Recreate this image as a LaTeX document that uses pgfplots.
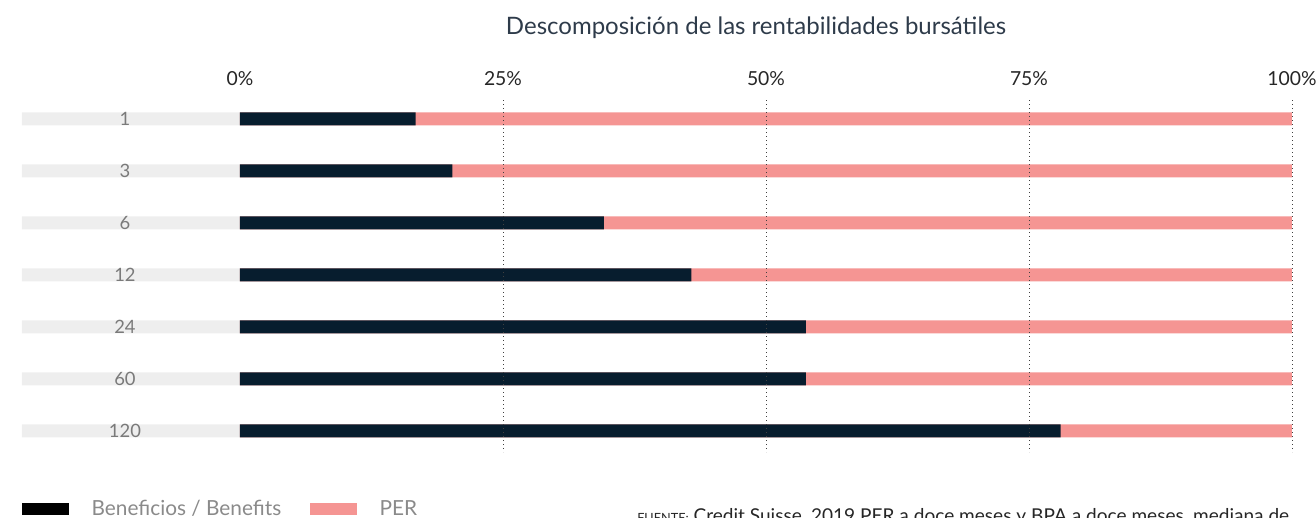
\documentclass[border=0pt]{standalone}
\usepackage{pgfplots}
\pgfplotsset{compat=1.18}
\usepackage{fontspec}
\setmainfont{Lato}
\newlength\px
\setlength\px{0.75pt}
\definecolor{benef}{HTML}{071D2E}
\definecolor{per}{HTML}{F59593}
\definecolor{lblgray}{HTML}{EEEEEE}
\definecolor{titlec}{HTML}{2E3B4A}
\definecolor{catc}{HTML}{7A7A7A}
\definecolor{legc}{HTML}{8A8A8A}
\begin{document}
\begin{tikzpicture}
\begin{axis}[
  scale only axis,
  width=1270\px, height=352\px,
  xmin=-20.72, xmax=100,
  ymin=-0.365, ymax=6.404,
  y dir=reverse,
  clip=false,
  axis on top,
  axis line style={draw=none},
  major tick length=0pt,
  xtick={25,50,75,100},
  xticklabels={25\%,50\%,75\%,100\%},
  extra x ticks={0},
  extra x tick labels={0\%},
  extra x tick style={grid=none},
  xticklabel pos=upper,
  xmajorgrids,
  grid style={black!75, line width=0.8\px, dash pattern=on 1\px off 3\px},
  xticklabel style={anchor=center, yshift=21\px, font=\fontsize{14.5}{16}\selectfont, text=black!85},
  ytick={0,1,2,3,4,5,6},
  yticklabels={1,3,6,12,24,60,120},
  yticklabel style={anchor=center, xshift=103\px, font=\fontsize{13.8}{15}\selectfont, text=catc},
  /pgf/number format/assume math mode=true,
  legend image code/.code={\fill[#1] (0pt,-6\px) rectangle (47\px,6\px);},
  legend style={at={(rel axis cs:0,-0.162)}, anchor=west, draw=none, fill=none,
    inner sep=0pt, outer sep=0pt, legend columns=2,
    font=\fontsize{15.6}{17}\selectfont, text=legc,
    /tikz/every odd column/.append style={column sep=20\px},
    /tikz/every even column/.append style={column sep=26\px}},
]
\addplot[xbar, bar width=13\px, bar shift=0pt, fill=lblgray, draw=none, forget plot]
  coordinates {(-20.72,0) (-20.72,1) (-20.72,2) (-20.72,3) (-20.72,4) (-20.72,5) (-20.72,6)};
\addplot[xbar, bar width=13\px, bar shift=0pt, fill=per, draw=none, forget plot]
  coordinates {(100,0) (100,1) (100,2) (100,3) (100,4) (100,5) (100,6)};
\addplot[xbar, bar width=13\px, bar shift=0pt, fill=benef, draw=none, forget plot]
  coordinates {(16.7,0) (20.2,1) (34.6,2) (42.9,3) (53.8,4) (53.8,5) (78.0,6)};
\addlegendimage{fill=black, draw=none}
\addlegendentry{Beneficios / Benefits}
\addlegendimage{fill=per, draw=none}
\addlegendentry{PER}
\node[anchor=center, text=titlec, font=\fontsize{18}{21}\selectfont] at (rel axis cs:0.578,1.2045) {Descomposición de las rentabilidades bursátiles};
\node[anchor=north west, inner sep=0pt, text=black!85, font=\fontsize{14.3}{16}\selectfont] at (rel axis cs:0.4843,-0.160) {{\fontsize{9.5}{10}\selectfont FUENTE:} Credit Suisse, 2019 PER a doce meses y BPA a doce meses, mediana de};
\coordinate (bbsw) at (rel axis cs:-0.01732,-0.1875);
\coordinate (bbne) at (rel axis cs:1.0189,1.2841);
\end{axis}
\pgfresetboundingbox
\useasboundingbox (bbsw) rectangle (bbne);
\end{tikzpicture}
\end{document}
